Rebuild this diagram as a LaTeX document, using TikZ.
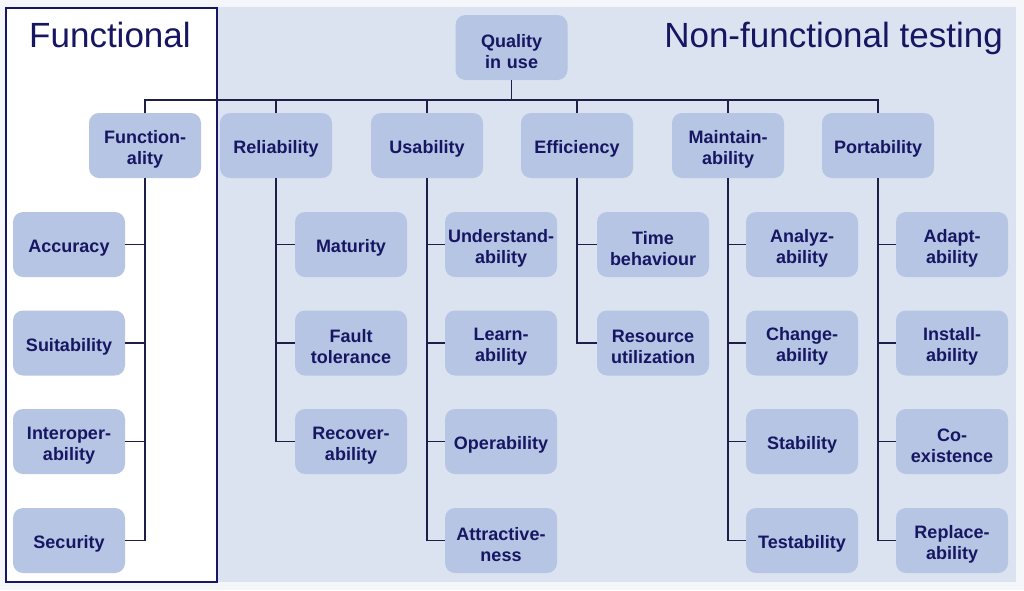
\documentclass[tikz,border=0pt]{standalone}
\usepackage{fontspec}
\setmainfont{Liberation Sans}
\usetikzlibrary{positioning, calc}

\definecolor{navy}{RGB}{22,22,98}
\definecolor{boxfill}{RGB}{182,197,227}
\definecolor{panel}{RGB}{220,227,240}
\definecolor{outer}{RGB}{244,246,249}
\definecolor{wire}{RGB}{30,30,72}

\begin{document}
\begin{tikzpicture}[
  x=1pt, y=-1pt,
  every node/.style={font=\bfseries\fontsize{18}{21}\selectfont, text=navy},
  %% Quality model node styles
  qbox/.style={fill=boxfill, rounded corners=10pt,
    minimum width=112pt, minimum height=65pt,
    text width=108pt, align=center, inner sep=1pt,
    execute at begin node={\rule{0pt}{20.5pt}}},
  title/.style={font=\fontsize{35}{40}\selectfont, text=navy,
    anchor=base west, inner sep=0pt},
  link/.style={draw=wire, line width=1.5pt},
]

%% =========================================================
%% BACKGROUND — panels
%% =========================================================
\useasboundingbox (0,0) rectangle (1024,590);
\fill[outer] (0,0) rectangle (1024,590);
\fill[panel] (217,7) rectangle (1016,582);
\draw[navy, line width=1.3pt, fill=white] (6,8) rectangle (217,582);

\node[title] (tfun) at (29,47) {Functional};
\node[title, anchor=base east] (tnon) at (1003,47) {Non-functional testing};

%% =========================================================
%% ROW 0 — Quality in use
%% =========================================================
\node[qbox] (qiu) at (511.5,47.5) {Quality\\in use};

%% ROW 1 — characteristics
\node[qbox] (fun) at (145,145.5) {Function-\\ality};
\node[qbox] (rel) at (276,145.5) {Reliability};
\node[qbox] (usa) at (427,145.5) {Usability};
\node[qbox] (eff) at (577,145.5) {Efficiency};
\node[qbox] (mai) at (728,145.5) {Maintain-\\ability};
\node[qbox] (por) at (878,145.5) {Portability};

\coordinate (bus) at (511.5,100);
\draw[link] (qiu.south) -- (qiu.south |- bus);
\draw[link] (fun.north) -- (fun.north |- bus) -- (por.north |- bus) -- (por.north);
\draw[link] (rel.north) -- (rel.north |- bus);
\draw[link] (usa.north) -- (usa.north |- bus);
\draw[link] (eff.north) -- (eff.north |- bus);
\draw[link] (mai.north) -- (mai.north |- bus);

%% =========================================================
%% ROW 2..5 — sub-characteristics
%% =========================================================
%% Functionality
\node[qbox] (acc) at (69,244.5) {Accuracy};
\node[qbox] (sui) at (69,343)   {Suitability};
\node[qbox] (int) at (69,441.5) {Interoper-\\ability};
\node[qbox] (sec) at (69,540.5) {Security};
\draw[link] (fun.south) |- (acc.east);
\draw[link] (fun.south) |- (sui.east);
\draw[link] (fun.south) |- (int.east);
\draw[link] (fun.south) |- (sec.east);

%% Reliability
\node[qbox] (mat) at (351,244.5) {Maturity};
\node[qbox] (flt) at (351,343)   {Fault\\tolerance};
\node[qbox] (rec) at (351,441.5) {Recover-\\ability};
\draw[link] (rel.south) |- (mat.west);
\draw[link] (rel.south) |- (flt.west);
\draw[link] (rel.south) |- (rec.west);

%% Usability
\node[qbox] (und) at (501,244.5) {Understand-\\ability};
\node[qbox] (lea) at (501,343)   {Learn-\\ability};
\node[qbox] (ope) at (501,441.5) {Operability};
\node[qbox] (att) at (501,540.5) {Attractive-\\ness};
\draw[link] (usa.south) |- (und.west);
\draw[link] (usa.south) |- (lea.west);
\draw[link] (usa.south) |- (ope.west);
\draw[link] (usa.south) |- (att.west);

%% Efficiency
\node[qbox] (tim) at (653,244.5) {Time\\behaviour};
\node[qbox] (res) at (653,343)   {Resource\\utilization};
\draw[link] (eff.south) |- (tim.west);
\draw[link] (eff.south) |- (res.west);

%% Maintainability
\node[qbox] (ana) at (802,244.5) {Analyz-\\ability};
\node[qbox] (cha) at (802,343)   {Change-\\ability};
\node[qbox] (sta) at (802,441.5) {Stability};
\node[qbox] (tst) at (802,540.5) {Testability};
\draw[link] (mai.south) |- (ana.west);
\draw[link] (mai.south) |- (cha.west);
\draw[link] (mai.south) |- (sta.west);
\draw[link] (mai.south) |- (tst.west);

%% Portability
\node[qbox] (ada) at (952,244.5) {Adapt-\\ability};
\node[qbox] (ins) at (952,343)   {Install-\\ability};
\node[qbox] (coe) at (952,441.5) {Co-\\existence};
\node[qbox] (rpl) at (952,540.5) {Replace-\\ability};
\draw[link] (por.south) |- (ada.west);
\draw[link] (por.south) |- (ins.west);
\draw[link] (por.south) |- (coe.west);
\draw[link] (por.south) |- (rpl.west);

\end{tikzpicture}
\end{document}
